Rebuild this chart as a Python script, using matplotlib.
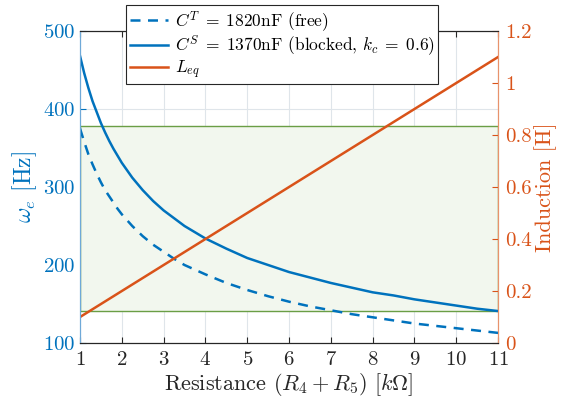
import matplotlib
matplotlib.use('Agg')
import matplotlib.pyplot as plt
from matplotlib.patches import Rectangle

plt.rcParams['font.family'] = 'serif'
plt.rcParams['font.serif'] = ['cmr10', 'DejaVu Serif']
plt.rcParams['mathtext.fontset'] = 'cm'
plt.rcParams['axes.formatter.use_mathtext'] = True

# resistance (R4+R5) in kOhm
r = [1.0, 1.1, 1.2, 1.3, 1.4, 1.5, 1.6, 1.7, 1.8, 1.9, 2.0, 2.25, 2.5, 2.75,
     3.0, 3.25, 3.5, 3.75, 4.0, 4.5, 5, 5.5, 6, 6.5, 7, 7.5, 8, 8.5, 9, 9.5,
     10, 10.5, 11]
# omega_e [Hz], blocked capacitance C^S
w_blocked = [468, 446, 427, 410, 396, 382, 370, 359, 349, 340, 331, 312, 296,
             282, 270, 260, 250, 242, 234, 221, 209, 200, 191, 184, 177, 171,
             165, 161, 156, 152, 148, 144, 141]
# omega_e [Hz], free capacitance C^T
w_free = [375, 358, 342, 329, 317, 306, 296, 288, 280, 272, 265, 250, 237,
          226, 217, 208, 200, 194, 188, 177, 168, 160, 153, 147, 142, 137,
          133, 129, 125, 122, 119, 116, 113]
# equivalent inductance [H]
r_l = [1, 11]
l_eq = [0.1, 1.1]
# shaded band on the frequency axis
band = [141, 378]

BLUE = '#0072BD'
ORANGE = '#D95319'
GREEN = '#6a9e45'
DARK = '#262626'

fig = plt.figure(figsize=(5.65, 4.05), dpi=100)
ax = fig.add_axes([0.1416, 0.153, 0.74, 0.7705])
ax2 = ax.twinx()

ax.add_patch(Rectangle((r[0], band[0]), r[-1] - r[0], band[1] - band[0],
                       facecolor='#f2f7ee', edgecolor=GREEN, lw=1.0, zorder=1))

l1, = ax.plot(r, w_free, '--', color=BLUE, lw=1.8, dashes=(4, 3), zorder=3,
              label=r'$C^T\;=\;1820\mathrm{nF}$ (free)')
l2, = ax.plot(r, w_blocked, '-', color=BLUE, lw=1.8, zorder=3,
              label=r'$C^S\;=\;1370\mathrm{nF}$ (blocked, $k_c\;=\;0.6$)')
l3, = ax2.plot(r_l, l_eq, '-', color=ORANGE, lw=1.8, label=r'$L_{eq}$')

ax.set_xlim(1, 11)
ax.set_ylim(100, 500)
ax2.set_ylim(0, 1.2)
ax.set_xticks(range(1, 12))
ax.set_yticks([100, 200, 300, 400, 500])
ax2.set_yticks([0, 0.2, 0.4, 0.6, 0.8, 1, 1.2])
ax2.set_yticklabels(['0', '0.2', '0.4', '0.6', '0.8', '1', '1.2'])

ax.grid(True, color='#dfe5ea', lw=0.8)
ax.set_axisbelow(True)

ax.tick_params(axis='x', direction='in', labelsize=15, colors=DARK,
               top=True, length=4, pad=6)
ax.tick_params(axis='y', direction='in', labelsize=15, colors=BLUE, length=4,
               pad=3)
ax2.tick_params(axis='y', direction='in', labelsize=15, colors=ORANGE,
                length=4, pad=5)

for s in ['top', 'bottom']:
    ax2.spines[s].set_color(DARK)
    ax2.spines[s].set_linewidth(0.8)
for a in (ax, ax2):
    a.spines['left'].set_color('#6fa9d8')
    a.spines['right'].set_color('#e8926c')

ax.set_xlabel(r'Resistance $(R_4 + R_5)\ [k\Omega]$', fontsize=16, color=DARK,
              labelpad=1)
ax.set_ylabel(r'$\omega_e$ [Hz]', fontsize=17, color=BLUE, labelpad=3)
ax2.set_ylabel('Induction [H]', fontsize=16, color=ORANGE, labelpad=2)

leg = ax2.legend(handles=[l1, l2, l3], loc='upper center',
                 bbox_to_anchor=(0.484, 1.083), fontsize=12.5, frameon=True,
                 fancybox=False, edgecolor=DARK, framealpha=1,
                 handlelength=2.2, borderpad=0.2, labelspacing=0.0,
                 handletextpad=0.4, borderaxespad=0.0)
leg.get_frame().set_linewidth(0.8)

fig.savefig('out.png', dpi=100)
